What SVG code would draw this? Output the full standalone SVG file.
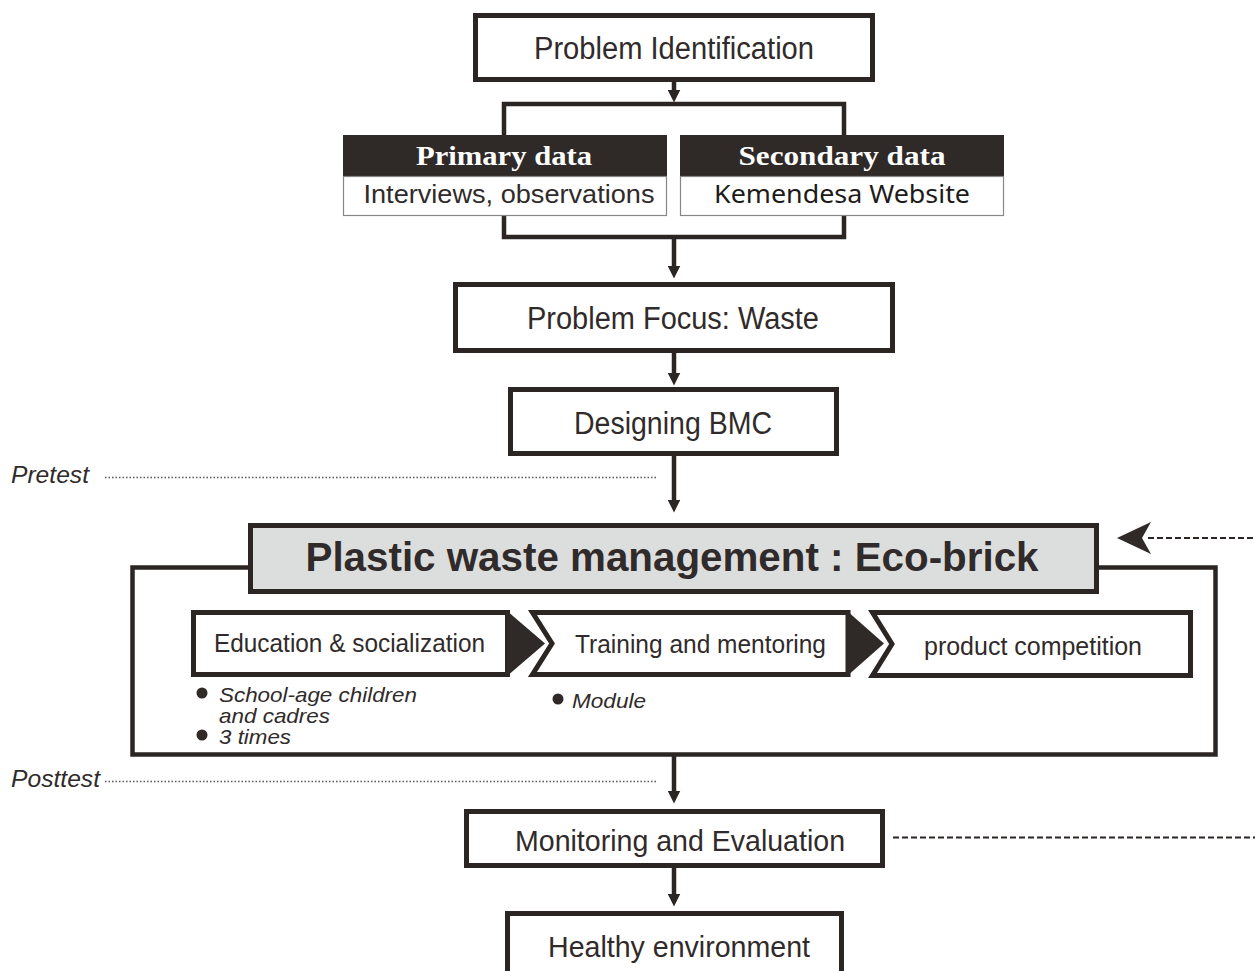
<svg xmlns="http://www.w3.org/2000/svg" width="1255" height="971" viewBox="0 0 1255 971">
<style>
.box{fill:#fff;stroke:#2b2624;stroke-width:5}
.ln{fill:none;stroke:#2b2624;stroke-width:4.5}
.dark{fill:#2f2a28}
.t{font-family:"Liberation Sans",Arial,sans-serif;fill:#302b2a;text-anchor:middle}
.it{font-family:"Liberation Sans",Arial,sans-serif;font-style:italic;fill:#302b2a}
.hd{font-family:"Liberation Serif","Times New Roman",serif;font-weight:bold;fill:#fff;text-anchor:middle;font-size:27px}
.dot{fill:none;stroke:#555;stroke-width:1.3;stroke-dasharray:1.5 2}
.dash{fill:none;stroke:#2b2624;stroke-width:2.2;stroke-dasharray:6 3}
</style>
<defs>
<marker id="ah" viewBox="0 0 10 10" refX="5" refY="5" markerWidth="13" markerHeight="13" markerUnits="userSpaceOnUse" orient="auto">
<path d="M0,0 L10,5 L0,10 z" fill="#2b2624"/>
</marker>
</defs>
<rect width="1255" height="971" fill="#fff"/>

<g id="connectors">
<line class="ln" x1="674" y1="82" x2="674" y2="96" marker-end="url(#ah)"/>
<polyline class="ln" points="504,137 504,104 844,104 844,137"/>
<polyline class="ln" points="504,215 504,237 844,237 844,215"/>
<line class="ln" x1="674" y1="237" x2="674" y2="272" marker-end="url(#ah)"/>
<line class="ln" x1="674" y1="353" x2="674" y2="379" marker-end="url(#ah)"/>
<line class="ln" x1="674" y1="456" x2="674" y2="506" marker-end="url(#ah)"/>
<path class="ln" d="M249,567.5 H132.5 V754.5 H1215.5 V567.5 H1098"/>
<line class="ln" x1="674" y1="756" x2="674" y2="797" marker-end="url(#ah)"/>
<line class="ln" x1="674" y1="867" x2="674" y2="900" marker-end="url(#ah)"/>
<line class="dot" x1="105" y1="477.5" x2="657" y2="477.5"/>
<line class="dot" x1="105" y1="781.5" x2="657" y2="781.5"/>
<line class="dash" x1="1148" y1="538" x2="1255" y2="538"/>
<polygon class="dark" points="1117,538 1151,522 1142,538 1151,554"/>
<line class="dash" x1="893" y1="837.5" x2="1255" y2="837.5"/>
</g>

<g id="problem-identification">
<rect class="box" x="475.5" y="15.5" width="397" height="64"/>
<text class="t" x="674" y="59" font-size="31" textLength="280" lengthAdjust="spacingAndGlyphs">Problem Identification</text>
</g>

<g id="primary-data">
<rect x="343" y="135" width="324" height="42" fill="#2f2a28"/>
<rect x="343.5" y="176.5" width="323" height="39" fill="#fff" stroke="#8a8686" stroke-width="1.2"/>
<text class="hd" x="504" y="165" textLength="176" lengthAdjust="spacingAndGlyphs">Primary data</text>
<text class="t" x="509" y="203" font-size="26" textLength="291" lengthAdjust="spacingAndGlyphs">Interviews, observations</text>
</g>

<g id="secondary-data">
<rect x="680" y="135" width="324" height="42" fill="#2f2a28"/>
<rect x="680.5" y="176.5" width="323" height="39" fill="#fff" stroke="#8a8686" stroke-width="1.2"/>
<text class="hd" x="842" y="165" textLength="207" lengthAdjust="spacingAndGlyphs">Secondary data</text>
<text x="842" y="203" font-family="'Noto Sans','Open Sans',sans-serif" font-size="26" fill="#1e1b1a" text-anchor="middle" textLength="256" lengthAdjust="spacingAndGlyphs">Kemendesa Website</text>
</g>

<g id="problem-focus">
<rect class="box" x="455.5" y="284.5" width="437" height="66"/>
<text class="t" x="673" y="329" font-size="31" textLength="292" lengthAdjust="spacingAndGlyphs">Problem Focus: Waste</text>
</g>

<g id="designing-bmc">
<rect class="box" x="510.5" y="389.5" width="326" height="64"/>
<text class="t" x="673" y="434" font-size="31" textLength="198" lengthAdjust="spacingAndGlyphs">Designing BMC</text>
</g>

<g id="pretest">
<text class="it" x="11" y="483" font-size="23" textLength="78" lengthAdjust="spacingAndGlyphs">Pretest</text>
</g>

<g id="eco-brick">
<rect x="250.5" y="525.5" width="846" height="66" fill="#dcdedd" stroke="#2b2624" stroke-width="5"/>
<text class="t" x="672" y="571" font-size="40" font-weight="bold" textLength="733" lengthAdjust="spacingAndGlyphs">Plastic waste management : Eco-brick</text>
</g>

<g id="education">
<rect class="box" x="193.5" y="612.5" width="314" height="62"/>
<polygon class="dark" points="506,610 545,643.5 506,677"/>
<text class="t" x="349.5" y="652" font-size="26" textLength="271" lengthAdjust="spacingAndGlyphs">Education &amp; socialization</text>
<circle class="dark" cx="202" cy="693" r="5.5"/>
<text class="it" x="219" y="702" font-size="21" textLength="198" lengthAdjust="spacingAndGlyphs">School-age children</text>
<text class="it" x="219" y="723" font-size="21" textLength="111" lengthAdjust="spacingAndGlyphs">and cadres</text>
<circle class="dark" cx="202" cy="735" r="5.5"/>
<text class="it" x="219" y="744" font-size="21" textLength="72" lengthAdjust="spacingAndGlyphs">3 times</text>
</g>

<g id="training">
<polygon class="box" points="532.5,612.5 848,612.5 848,674.5 532.5,674.5 552,643.5" stroke-linejoin="miter"/>
<polygon class="dark" points="846,610 884,643.5 846,677"/>
<text class="t" x="700.5" y="653" font-size="26" textLength="251" lengthAdjust="spacingAndGlyphs">Training and mentoring</text>
<circle class="dark" cx="558" cy="699" r="5.5"/>
<text class="it" x="572" y="708" font-size="21" textLength="74" lengthAdjust="spacingAndGlyphs">Module</text>
</g>

<g id="product-competition">
<polygon class="box" points="872.5,612.5 1190.5,612.5 1190.5,675.5 872.5,675.5 892,644" stroke-linejoin="miter"/>
<text class="t" x="1033" y="655" font-size="26" textLength="218" lengthAdjust="spacingAndGlyphs">product competition</text>
</g>

<g id="posttest">
<text class="it" x="11" y="787" font-size="23" textLength="89" lengthAdjust="spacingAndGlyphs">Posttest</text>
</g>

<g id="monitoring">
<rect class="box" x="466.5" y="811.5" width="416" height="54"/>
<text class="t" x="680" y="851" font-size="29" textLength="330" lengthAdjust="spacingAndGlyphs">Monitoring and Evaluation</text>
</g>

<g id="healthy-environment">
<rect class="box" x="507.5" y="913.5" width="334" height="70"/>
<text class="t" x="679" y="957" font-size="29" textLength="262" lengthAdjust="spacingAndGlyphs">Healthy environment</text>
</g>
</svg>
